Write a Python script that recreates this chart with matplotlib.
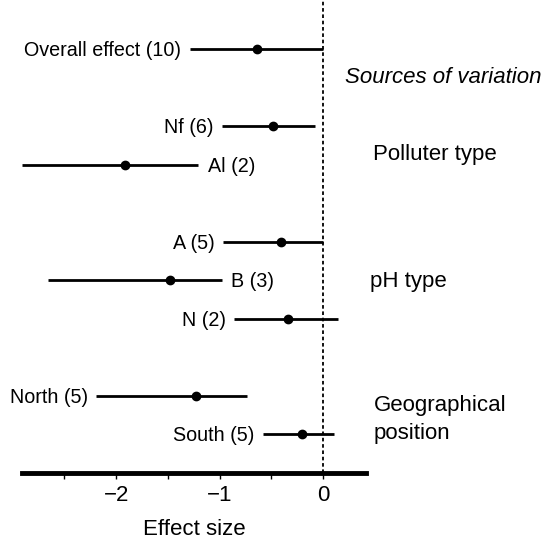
import matplotlib
matplotlib.use("Agg")
import matplotlib.pyplot as plt

plt.rcParams['font.family'] = ['Liberation Sans', 'DejaVu Sans']

labels = ["Overall effect (10)", "Nf (6)", "Al (2)", "A (5)", "B (3)", "N (2)", "North (5)", "South (5)"]
rows = [11, 9, 8, 6, 5, 4, 2, 1]
means = [-0.64, -0.48, -1.91, -0.41, -1.48, -0.34, -1.23, -0.20]
lower = [-1.29, -0.98, -2.91, -0.97, -2.66, -0.86, -2.19, -0.58]
upper = [0.0, -0.08, -1.21, 0.0, -0.98, 0.14, -0.74, 0.11]
label_side = ["left", "left", "right", "left", "right", "left", "left", "left"]

groups = ["Sources of variation", "Polluter type", "pH type", "Geographical\nposition"]
group_y = [10.26, 8.27, 4.97, 1.38]
group_x = [0.21, 0.48, 0.45, 0.49]

fig = plt.figure(figsize=(5.42, 5.41), dpi=100)
ax = fig.add_axes([0.0406, 0.1257, 0.6347, 0.8743])

ax.axvline(0, color='black', linestyle=(0, (2, 1.5)), linewidth=1.3, zorder=1)

for lab, r, m, lo, hi, side in zip(labels, rows, means, lower, upper, label_side):
    ax.plot([lo, hi], [r, r], color='black', linewidth=2, solid_capstyle='butt', zorder=2)
    ax.plot(m, r, 'o', color='black', markersize=6, zorder=3)
    if side == "left":
        ax.annotate(lab, (lo, r), xytext=(-6, -4.8), textcoords='offset points',
                    ha='right', va='baseline', fontsize=14.2, annotation_clip=False)
    else:
        ax.annotate(lab, (hi, r), xytext=(7, -4.8), textcoords='offset points',
                    ha='left', va='baseline', fontsize=14.2, annotation_clip=False)

for g, gx, gy in zip(groups, group_x, group_y):
    style = 'italic' if g.startswith("Sources") else 'normal'
    ax.text(gx, gy, g, ha='left', va='center', fontsize=16, style=style,
            clip_on=False, linespacing=1.42)

ax.set_xlim(-2.91, 0.415)
ax.set_ylim(0, 12.28)
for s in ['left', 'right', 'top']:
    ax.spines[s].set_visible(False)
ax.spines['bottom'].set_linewidth(3.5)
ax.set_yticks([])
ax.set_xticks([-2, -1, 0])
ax.set_xticklabels(["\u22122", "\u22121", "0"])
ax.set_xticks([-2.5, -1.5, -0.5], minor=True)
ax.tick_params(axis='x', which='both', direction='out', length=4, width=1, labelsize=16, pad=5)
ax.set_xlabel("Effect size", fontsize=16, labelpad=9)

fig.savefig("out.png", dpi=100)
